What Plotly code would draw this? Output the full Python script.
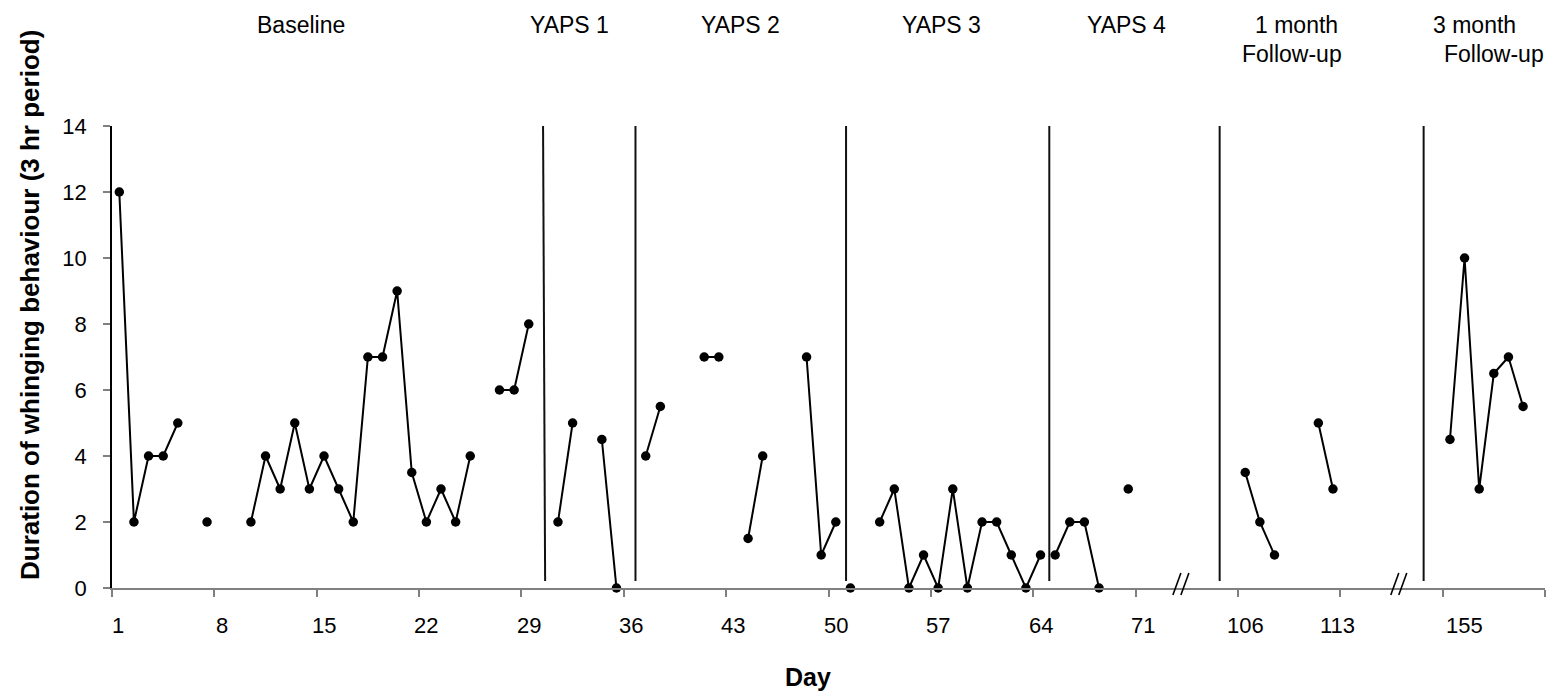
import plotly.graph_objects as go

# ---- data -------------------------------------------------------------
# Session positions on the x axis (one slot per observation day; the
# follow-up sessions sit after the axis breaks).
baseline_x = list(range(1, 30))
baseline_y = [12, 2, 4, 4, 5, None, 2, None, None, 2, 4, 3, 5, 3, 4, 3, 2,
              7, 7, 9, 3.5, 2, 3, 2, 4, None, 6, 6, 8]

yaps1_x = list(range(31, 36))
yaps1_y = [2, 5, None, 4.5, 0]

yaps2_x = list(range(37, 51))
yaps2_y = [4, 5.5, None, None, 7, 7, None, 1.5, 4, None, None, 7, 1, 2]

yaps3_x = list(range(51, 65))
yaps3_y = [0, None, 2, 3, 0, 1, 0, 3, 0, 2, 2, 1, 0, 1]

yaps4_x = list(range(65, 71))
yaps4_y = [1, 2, 2, 0, None, 3]

follow1_x = list(range(78, 85))
follow1_y = [3.5, 2, 1, None, None, 5, 3]

follow3_x = list(range(92, 98))
follow3_y = [4.5, 10, 3, 6.5, 7, 5.5]

# Day labels under the axis and where they sit
day_labels = ["1", "8", "15", "22", "29", "36", "43", "50", "57", "64", "71",
              "106", "113", "155"]
day_label_pos = [0.9, 8, 15, 22, 29, 36, 43, 50, 57, 64, 71, 78, 84.3, 93]
# Tick marks on the category boundaries
day_tick_pos = [0.5, 7.5, 14.5, 21.5, 28.5, 35.5, 42.5, 49.5, 56.5, 63.5,
                70.5, 77.5, 84.5, 91.5, 98.5]

# Phase change lines (top / bottom x) and phase titles
phase_line_top = [29.98, 36.3, 50.7, 64.6, 76.25, 90.2]
phase_line_bottom = [30.12, 36.3, 50.7, 64.6, 76.25, 90.2]
phase_names = ["Baseline", "YAPS 1", "YAPS 2", "YAPS 3", "YAPS 4",
               "1 month", "Follow-up", "3 month", "Follow-up"]
phase_name_x = [13.4, 31.8, 43.5, 57.2, 69.9, 81.5, 81.2, 93.7, 95.0]
phase_name_row = [0, 0, 0, 0, 0, 0, 1, 0, 1]

# Axis break positions
break_pos = [73.6, 88.5]

FONT = "Liberation Sans, Arial, sans-serif"

fig = go.Figure()

series = [(baseline_x, baseline_y), (yaps1_x, yaps1_y), (yaps2_x, yaps2_y),
          (yaps3_x, yaps3_y), (yaps4_x, yaps4_y), (follow1_x, follow1_y),
          (follow3_x, follow3_y)]
for xs, ys in series:
    fig.add_trace(go.Scatter(
        x=xs, y=ys, mode="lines+markers", connectgaps=False,
        line=dict(color="black", width=2),
        marker=dict(color="black", size=9.5),
        cliponaxis=False, showlegend=False, hoverinfo="skip"))

shapes = []
for xt, xb in zip(phase_line_top, phase_line_bottom):
    shapes.append(dict(type="line", xref="x", yref="y", x0=xb, y0=0.21,
                       x1=xt, y1=14, line=dict(color="#111111", width=2)))

# "//" axis break marks (two short slanted strokes each)
PX_X = 1 / 14.63
for c in break_pos:
    for off in (-4, 4):
        shapes.append(dict(type="line", xref="x", yref="paper",
                           x0=c + (off - 4) * PX_X, y0=-7 / 462,
                           x1=c + (off + 4) * PX_X, y1=15 / 462,
                           line=dict(color="black", width=1.6)))

annotations = []
for lab, pos in zip(day_labels, day_label_pos):
    annotations.append(dict(x=pos, y=0, xref="x", yref="y", text=lab,
                            showarrow=False, yshift=-37, xanchor="center",
                            yanchor="middle",
                            font=dict(family=FONT, size=22, color="black")))

row_y = [(588 - 25) / 462, (588 - 54) / 462]
for name, px, row in zip(phase_names, phase_name_x, phase_name_row):
    annotations.append(dict(x=px, y=row_y[row], xref="x", yref="paper",
                            text=name, showarrow=False, xanchor="center",
                            yanchor="middle",
                            font=dict(family=FONT, size=23, color="black")))

annotations.append(dict(x=0, y=(588 - 305) / 462, xref="paper", yref="paper",
                        xshift=-82, text="<b>Duration of whinging behaviour (3 hr period)</b>",
                        textangle=-90, showarrow=False, xanchor="center",
                        yanchor="middle",
                        font=dict(family=FONT, size=26, color="black")))
annotations.append(dict(x=(808 - 112) / 1433, y=(588 - 677) / 462,
                        xref="paper", yref="paper", text="<b>Day</b>",
                        showarrow=False, xanchor="center", yanchor="middle",
                        font=dict(family=FONT, size=25, color="black")))

fig.update_layout(
    width=1568, height=696,
    margin=dict(l=112, r=23, t=126, b=108),
    paper_bgcolor="white", plot_bgcolor="white",
    shapes=shapes, annotations=annotations,
    font=dict(family=FONT, size=22, color="black"),
    xaxis=dict(range=[0.5, 98.5], tickmode="array", tickvals=day_tick_pos,
               ticktext=[""] * len(day_tick_pos), ticks="outside", ticklen=7,
               tickcolor="#808080", tickwidth=1.5, showline=True,
               linecolor="#808080", linewidth=2, showgrid=False,
               zeroline=False, fixedrange=True),
    yaxis=dict(range=[0, 14], tickmode="array",
               tickvals=[0, 2, 4, 6, 8, 10, 12, 14], ticks="outside",
               ticklen=7, tickcolor="#808080", tickwidth=1.5, showline=True,
               linecolor="black", linewidth=1.5, showgrid=False,
               zeroline=False, ticklabelstandoff=12,
               tickfont=dict(family=FONT, size=22, color="black")),
)

fig.write_html("out.html")
